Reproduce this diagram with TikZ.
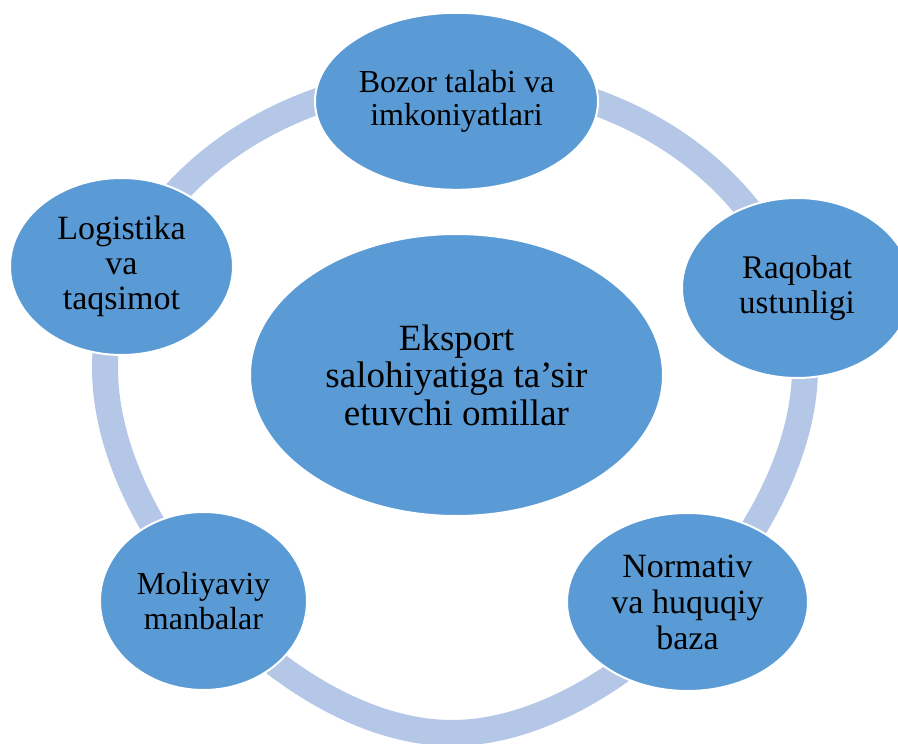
\documentclass[tikz,border=0pt]{standalone}
\usepackage{fontspec}
\setmainfont{Liberation Serif}
\usetikzlibrary{shapes.geometric}
\definecolor{nodeblue}{HTML}{5B9BD5}
\definecolor{ringblue}{HTML}{B4C7E7}
\tikzset{
  ringband/.style={draw=ringblue, line width=26pt},
  fact/.style={ellipse, fill=nodeblue, draw=white, line width=2pt, inner sep=0pt,
    align=center, text=black, font=\fontsize{33}{35}\selectfont},
  hub/.style={fact, font=\fontsize{37}{37.5}\selectfont}
}
\begin{document}
\begin{tikzpicture}[x=1pt,y=-1pt]
\useasboundingbox (0,0) rectangle (898,744);
\fill[white] (0,0) rectangle (898,744);
% ring
\draw[ringband] (105,368) .. controls (105,207.8) and (261.7,78) .. (455,78)
  .. controls (648.3,78) and (805,207.8) .. (805,368)
  .. controls (805,532.3) and (612.5,733) .. (452,733)
  .. controls (291.5,733) and (105,532.3) .. (105,368) -- cycle;
% nodes
\node[hub, minimum width=413pt, minimum height=282pt] (hubnode) at (456.5,375) {Eksport\\salohiyatiga ta’sir\\etuvchi omillar};
\node[fact, minimum width=283pt, minimum height=177pt, font=\fontsize{32}{33}\selectfont] (bozor) at (456.5,101.3) {Bozor talabi va\\imkoniyatlari};
\node[fact, minimum width=230pt, minimum height=180pt] (raqobat) at (797,288) {Raqobat\\ustunligi};
\node[fact, minimum width=241pt, minimum height=178pt, font=\fontsize{34}{36}\selectfont] (normativ) at (687.5,602) {Normativ\\va huquqiy\\baza};
\node[fact, minimum width=207pt, minimum height=178pt, font=\fontsize{32}{35}\selectfont] (moliya) at (203.5,601) {Moliyaviy\\manbalar};
\node[fact, minimum width=223pt, minimum height=177pt, font=\fontsize{34}{35}\selectfont] (logistika) at (121.5,266.5) {Logistika\\va\\taqsimot};
\end{tikzpicture}
\end{document}
